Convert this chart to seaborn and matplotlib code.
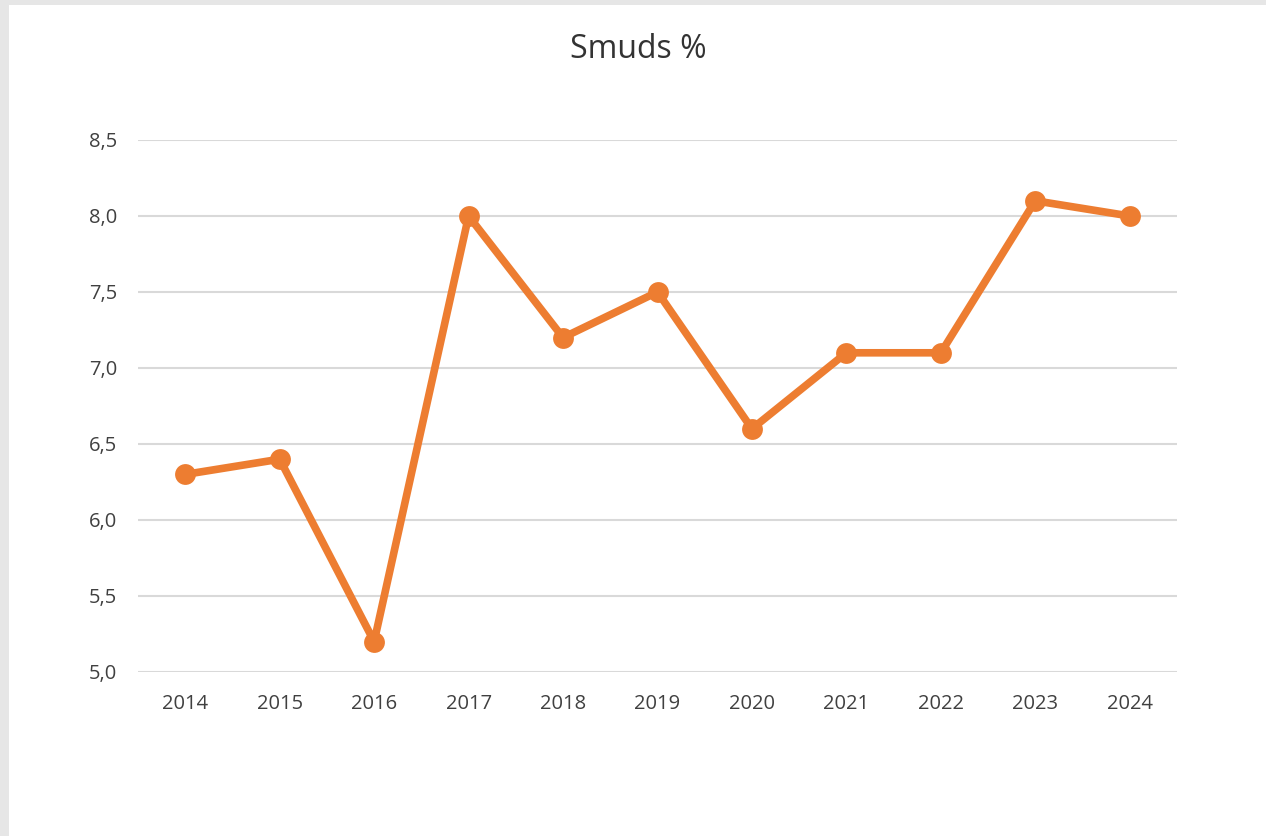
import pandas as pd
import matplotlib.pyplot as plt
import seaborn as sns
from matplotlib.patches import Rectangle
from matplotlib.ticker import FuncFormatter

# Data
aar = ["2014", "2015", "2016", "2017", "2018", "2019", "2020", "2021", "2022", "2023", "2024"]
smuds = [6.3, 6.4, 5.2, 8.0, 7.2, 7.5, 6.6, 7.1, 7.1, 8.1, 8.0]

df = pd.DataFrame({"aar": aar, "smuds": smuds})

sns.set_style("white")
plt.rcParams['font.family'] = ['Open Sans', 'DejaVu Sans']

W, H = 1266, 836
fig = plt.figure(figsize=(W / 100, H / 100), dpi=100)
fig.patch.set_facecolor("white")

# grå kant øverst og til venstre
fig.patches.append(Rectangle((0, 0), 9 / W, 1, transform=fig.transFigure,
                             facecolor="#e6e6e6", edgecolor="none", zorder=0))
fig.patches.append(Rectangle((0, 1 - 5 / H), 1, 5 / H, transform=fig.transFigure,
                             facecolor="#e6e6e6", edgecolor="none", zorder=0))

ax = fig.add_axes([138 / W, 164 / H, (1177 - 138) / W, (672 - 140) / H])

sns.lineplot(data=df, x="aar", y="smuds", ax=ax, color="#ED7D31",
             linewidth=5.5, marker="o", markersize=15, markeredgewidth=0,
             sort=False, zorder=3)

ax.set_xlim(-0.5, len(aar) - 0.5)
ax.set_ylim(5.0, 8.5)
ax.set_yticks([5.0, 5.5, 6.0, 6.5, 7.0, 7.5, 8.0, 8.5])
ax.yaxis.set_major_formatter(FuncFormatter(lambda v, p: f"{v:.1f}".replace(".", ",")))

ax.grid(axis="y", color="#d9d9d9", linewidth=1.5)
ax.set_axisbelow(True)
for s in ax.spines.values():
    s.set_visible(False)
ax.tick_params(axis="both", length=0, labelsize=14.5, labelcolor="#404040")
ax.tick_params(axis="y", pad=15)
ax.tick_params(axis="x", pad=16)
ax.set_xlabel("")
ax.set_ylabel("")

fig.text(638 / W, 1 - 49 / H, "Smuds %", ha="center", va="center",
         fontsize=23, color="#333333")

fig.savefig("out.png", dpi=100, facecolor=fig.get_facecolor())
